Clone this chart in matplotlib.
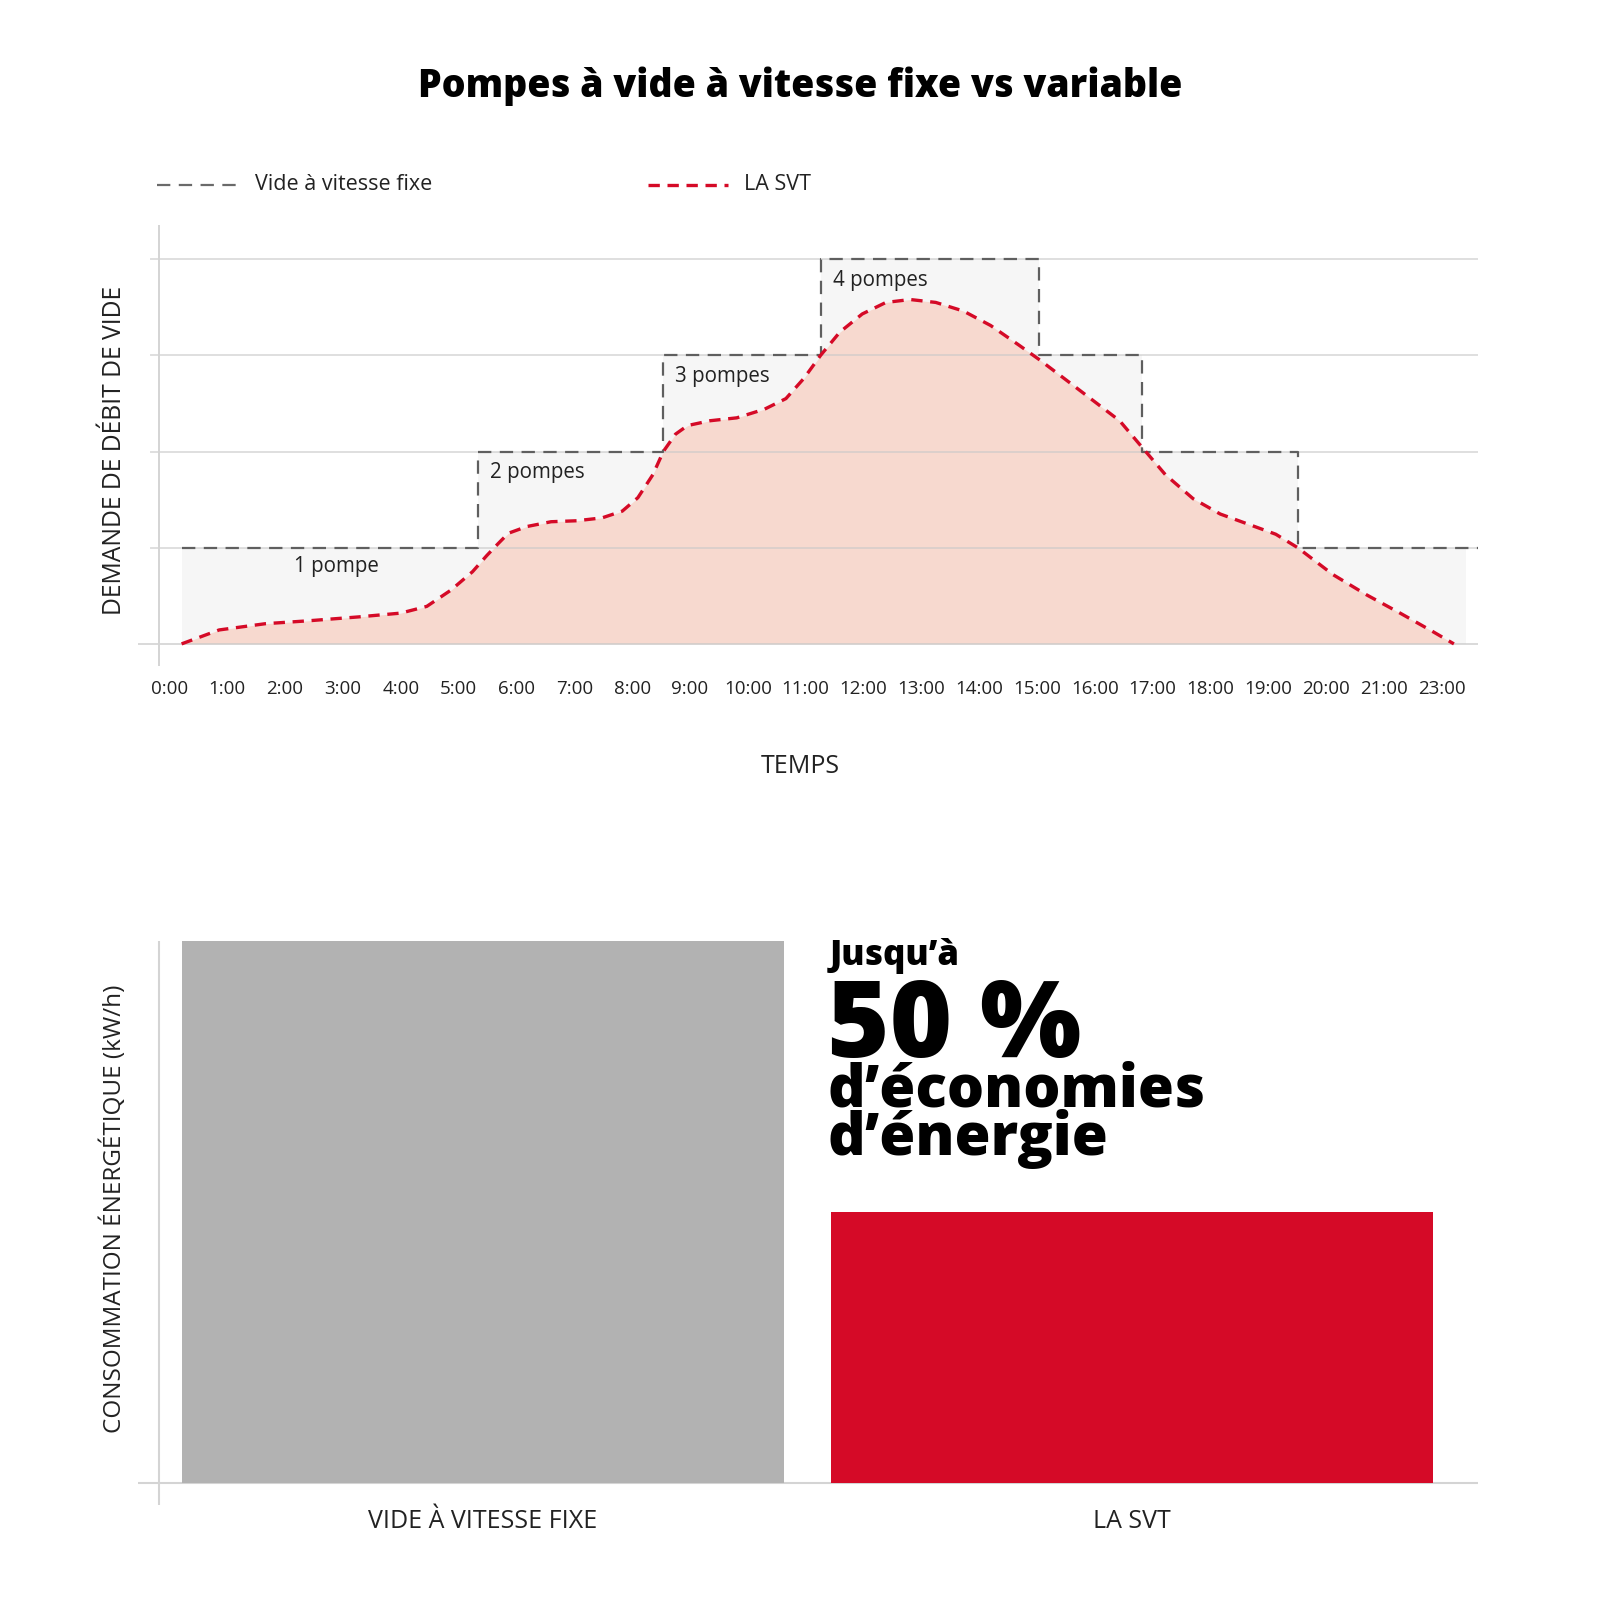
import matplotlib
matplotlib.use("Agg")
import matplotlib.pyplot as plt

plt.rcParams['font.family'] = ['Open Sans', 'DejaVu Sans']

# ---------------- data ----------------
tick_labels = ["0:00", "1:00", "2:00", "3:00", "4:00", "5:00", "6:00", "7:00", "8:00",
               "9:00", "10:00", "11:00", "12:00", "13:00", "14:00", "15:00", "16:00",
               "17:00", "18:00", "19:00", "20:00", "21:00", "23:00"]

# fixed-speed pumps: step edges (time axis units) and number of pumps running
step_edges = [0.21, 5.33, 8.54, 11.26, 15.03, 16.81, 19.51, 22.42]
step_pumps = [1, 2, 3, 4, 3, 2, 1]
step_labels = ["1 pompe", "2 pompes", "3 pompes", "4 pompes"]

# variable-speed (LA SVT) demand curve, in pump-equivalents
svt_t = [0.21, 0.86, 1.66, 2.40, 3.26, 4.00, 4.45, 4.87, 5.24, 5.49, 5.68, 5.86,
         6.18, 6.60, 7.04, 7.48, 7.83, 8.10, 8.36, 8.54, 8.75, 8.96, 9.35, 9.81,
         10.29, 10.66, 10.97, 11.26, 11.59, 11.98, 12.39, 12.81, 13.25, 13.73,
         14.20, 14.68, 15.03, 15.47, 15.95, 16.43, 16.81, 17.22, 17.70, 18.17,
         18.72, 19.13, 19.51, 20.12, 20.70, 21.28, 21.84, 22.21]
svt_v = [0.00, 0.145, 0.21, 0.24, 0.28, 0.32, 0.39, 0.56, 0.75, 0.92, 1.04, 1.15,
         1.22, 1.27, 1.28, 1.31, 1.38, 1.52, 1.76, 2.00, 2.18, 2.27, 2.32, 2.35,
         2.44, 2.55, 2.76, 3.00, 3.24, 3.43, 3.55, 3.58, 3.55, 3.46,
         3.31, 3.11, 2.96, 2.76, 2.54, 2.32, 2.05, 1.76, 1.51, 1.35,
         1.23, 1.14, 1.00, 0.72, 0.51, 0.32, 0.13, 0.00]

bar_categories = ["VIDE À VITESSE FIXE", "LA SVT"]
bar_values = [100, 50]

# ---------------- style ----------------
RED = "#d50a27"
RED_FILL = "#f7d9cf"
STEP_FILL = "#f6f6f6"
STEP_LINE = "#5f5f5f"
GRID = "#c9c9c9"
AXIS = "#d4d4d4"
BAR_GRAY = "#b2b2b2"
TXT = "#222222"
HEAVY = 800

S = 1600.0
def fx(px): return px / S
def fy(py): return 1 - py / S

fig = plt.figure(figsize=(16, 16), dpi=100)
fig.patch.set_facecolor("white")

# ---------------- title & legend ----------------
fig.text(0.5, fy(97), "Pompes à vide à vitesse fixe vs variable", ha="center", va="baseline",
         fontsize=27, fontweight=HEAVY, color="black")

fig.add_artist(plt.Line2D([fx(157), fx(239)], [fy(185), fy(185)], color="#6a6a6a",
                          lw=1.6, ls=(0, (6, 3.8)), transform=fig.transFigure))
fig.text(fx(255), fy(185), "Vide à vitesse fixe", ha="left", va="center", fontsize=15.5, color=TXT)
fig.add_artist(plt.Line2D([fx(648), fx(728)], [fy(185), fy(185)], color=RED,
                          lw=2.4, ls=(0, (3.4, 2.3)), transform=fig.transFigure))
fig.text(fx(744), fy(185), "LA SVT", ha="left", va="center", fontsize=15.5, color=TXT)

# ---------------- top chart ----------------
ax = fig.add_axes([fx(137.8), fy(666.3), fx(1477.6) - fx(137.8), fy(224.5) - fy(666.3)])
xmin, xmax = -0.547, 22.62
ax.set_xlim(xmin, xmax)
ax.set_ylim(-0.233, 4.36)
for s in ax.spines.values():
    s.set_visible(False)

span = xmax - xmin
for lvl in [1, 2, 3, 4]:
    ax.axhline(lvl, xmin=(-0.318 - xmin) / span, xmax=1, color=GRID, alpha=0.6, lw=1.4, zorder=2)
ax.axhline(0, xmin=0, xmax=1, color=GRID, alpha=0.7, lw=1.4, zorder=2)
ax.axvline(-0.176, ymin=0, ymax=1, color=AXIS, lw=1.4, zorder=2)

# step function (fixed speed)
sx, sy = [], []
for i, p in enumerate(step_pumps):
    sx += [step_edges[i], step_edges[i + 1]]
    sy += [p, p]
ax.fill_between(sx, sy, 0, color=STEP_FILL, lw=0, zorder=0.5)
lx = sx[:-1] + [xmax]
ax.plot(lx, sy, color=STEP_LINE, lw=1.6, ls=(0, (6, 3.8)), zorder=2.5)

# SVT curve
ax.fill_between(svt_t, svt_v, 0, color=RED_FILL, lw=0, zorder=1)
ax.plot(svt_t, svt_v, color=RED, lw=2.4, ls=(0, (3.4, 2.3)), zorder=3)

# step labels
ax.text((step_edges[0] + step_edges[1]) / 2 + 0.12, step_pumps[0] - 0.2, step_labels[0],
        ha="center", va="center", fontsize=14.8, color=TXT, zorder=4)
for k in range(1, 4):
    ax.text(step_edges[k] + 0.21, step_pumps[k] - 0.22, step_labels[k],
            ha="left", va="center", fontsize=14.8, color=TXT, zorder=4)

ax.set_xticks(range(len(tick_labels)))
ax.set_xticklabels(tick_labels, fontsize=13.5, color=TXT)
ax.tick_params(axis="x", length=0, pad=10)
ax.set_yticks([])
ax.set_xlabel("TEMPS", fontsize=18, color=TXT)
ax.xaxis.set_label_coords((784 - 135) / 1313, (653 - 739) / 433)
ax.set_ylabel("DEMANDE DE DÉBIT DE VIDE", fontsize=17.8, color=TXT)
ax.yaxis.set_label_coords((124 - 135) / 1313, (653 - 441) / 433)

# ---------------- bottom chart ----------------
bx = fig.add_axes([fx(137.8), fy(1505), fx(1477.6) - fx(137.8), fy(940.8) - fy(1505)])
bx.set_xlim(-0.531, 1.532)
bx.set_ylim(-4.14, 100)
for s in bx.spines.values():
    s.set_visible(False)
bx.axhline(0, color=AXIS, lw=1.5, zorder=1)
bx.axvline(-0.498, color=AXIS, lw=1.5, zorder=1)
bx.bar(range(len(bar_categories)), bar_values, width=0.927,
       color=[BAR_GRAY, RED], zorder=2)
bx.set_xticks(range(len(bar_categories)))
bx.set_xticklabels(bar_categories, fontsize=18, color=TXT)
bx.tick_params(axis="x", length=0, pad=3)
bx.set_yticks([])
bx.set_ylabel("CONSOMMATION ÉNERGÉTIQUE (kW/h)", fontsize=17.5, color=TXT)
bx.yaxis.set_label_coords((124 - 135) / 1313, (1475 - 1185) / 553)

# annotation text
fig.text(fx(830), fy(965), "Jusqu’à", ha="left", va="baseline", fontsize=25,
         fontweight=HEAVY, color="black")
fig.text(fx(827), fy(1057), "50 %", ha="left", va="baseline", fontsize=77,
         fontweight=HEAVY, color="black")
# two-line block; va='baseline' aligns the last line's baseline
fig.text(fx(828), fy(1155), "d’économies\nd’énergie", ha="left", va="baseline", fontsize=42,
         fontweight=HEAVY, color="black", linespacing=0.75)

fig.savefig("out.png", dpi=100, facecolor="white")
